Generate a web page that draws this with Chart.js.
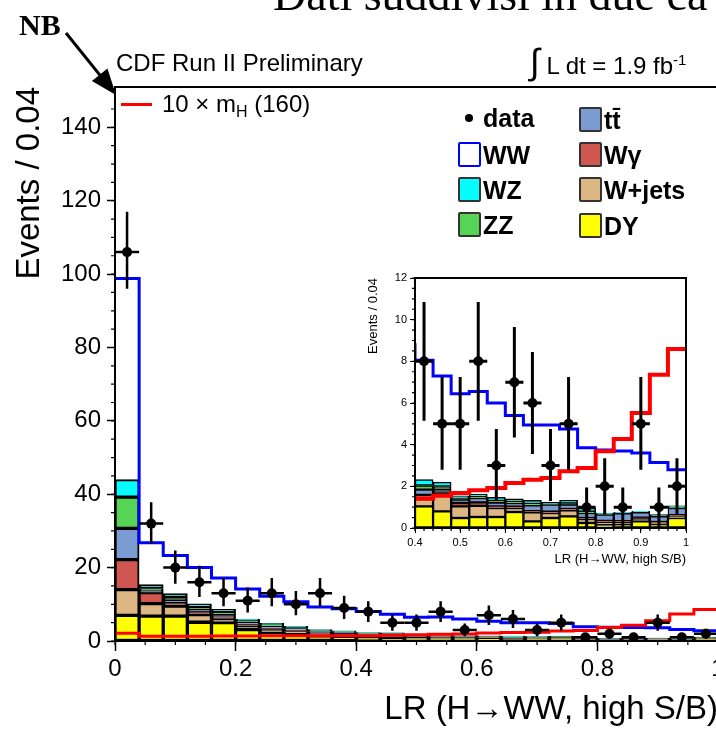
<!DOCTYPE html>
<html>
<head>
<meta charset="utf-8">
<script src="https://cdn.jsdelivr.net/npm/chart.js@4.4.0/dist/chart.umd.min.js"></script>
<style>
  html, body { margin: 0; padding: 0; background: #fff; overflow: hidden; }
  #wrap { position: relative; width: 716px; height: 733px; overflow: hidden; background: #fff; }
  #main { position: absolute; left: 0; top: 0; }
  #inset { position: absolute; left: 355px; top: 268px; }
  .txt { position: absolute; white-space: nowrap; color: #000; font-family: "Liberation Sans", Arial, sans-serif; }
  .serif { font-family: "Liberation Serif", "Times New Roman", serif; }
  .leg { position: absolute; white-space: nowrap; font: bold 25px/26px "Liberation Sans", Arial, sans-serif; color: #000; }
  .box { position: absolute; width: 19px; height: 21px; border: 2px solid #333; border-radius: 2px; }
</style>
</head>
<body>
<div id="wrap">
  <canvas id="main" width="790" height="733"></canvas>
  <canvas id="inset" width="345" height="310"></canvas>

  <div class="txt serif" style="left:273px; top:-28px; font-size:46px; line-height:46px;">Dati suddivisi in due ca</div>
  <div class="txt serif" style="left:19px; top:10px; font-size:30px; line-height:30px; font-weight:bold;">NB</div>

  <div class="txt" style="left:116px; top:51px; font-size:24px; line-height:24px;">CDF Run II Preliminary</div>
  <div class="txt" style="left:530px; top:42px; font-size:24px; line-height:36px;"><span style="font-size:36px;">&#8747;</span> L dt = 1.9 fb<sup style="font-size:15px; vertical-align:9px;">-1</sup></div>

  <div style="position:absolute; left:121px; top:103px; width:31px; height:3px; background:#ff0000;"></div>
  <div class="txt" style="left:162px; top:92px; font-size:24px; line-height:24px;">10 &times; m<sub style="font-size:16px; vertical-align:-5px;">H</sub> (160)</div>

  <div style="position:absolute; left:465px; top:114px; width:8px; height:8px; border-radius:50%; background:#000;"></div>
  <div class="leg" style="left:483px; top:105px;">data</div>
  <div class="box" style="left:458px; top:142px; background:#fff; border-color:#0000ff;"></div>
  <div class="leg" style="left:483px; top:142px;">WW</div>
  <div class="box" style="left:458px; top:177px; background:#00ffff;"></div>
  <div class="leg" style="left:483px; top:177px;">WZ</div>
  <div class="box" style="left:458px; top:212px; background:#55d455;"></div>
  <div class="leg" style="left:483px; top:212px;">ZZ</div>

  <div class="box" style="left:579px; top:107px; background:#7b9bd3;"></div>
  <div class="leg" style="left:604px; top:107px;">tt&#772;</div>
  <div class="box" style="left:579px; top:142px; background:#d05650;"></div>
  <div class="leg" style="left:604px; top:142px;">W&gamma;</div>
  <div class="box" style="left:579px; top:177px; background:#dcb784;"></div>
  <div class="leg" style="left:604px; top:177px;">W+jets</div>
  <div class="box" style="left:579px; top:213px; background:#ffff00;"></div>
  <div class="leg" style="left:604px; top:213px;">DY</div>
</div>

<script>
// bins of LR, width 0.04
var binCenters = [0.02, 0.06, 0.10, 0.14, 0.18, 0.22, 0.26, 0.30, 0.34, 0.38, 0.42, 0.46, 0.50,
                  0.54, 0.58, 0.62, 0.66, 0.70, 0.74, 0.78, 0.82, 0.86, 0.90, 0.94, 0.98]
var binWidth = 0.04

// data with error bars
var dataCounts  = [106, 32, 20, 16, 13, 11, 13, 10, 13, 9, 8, 5, 5, 8, 3, 7, 6, 3, 5, 1, 2, 1, 5, 1, 2]
var dataErrLow  = [96, 26.6, 15.6, 12, 9.5, 7.8, 9.5, 7, 9.5, 6, 5.15, 2.8, 2.8, 5.15, 1.3, 4.35, 3.55, 1.3, 2.8, 0, 0.65, 0, 2.8, 0, 0.65]
var dataErrHigh = [117, 37.8, 24.7, 20.5, 17.2, 14.6, 17.2, 13.6, 17.2, 12.3, 10.85, 7.25, 7.25, 10.85, 4.75, 9.65, 8.45, 4.75, 7.25, 1.95, 3.35, 1.95, 7.25, 1.95, 3.35]

// backgrounds, stacked bottom to top
var dy     = [7.0, 6.8, 6.8, 5.1, 5.0, 3.1, 2.3, 2.0, 1.4, 1.2, 1.04, 0.8, 0.48, 0.53, 0.53, 0.77, 0.32, 0.48, 0.56, 0.24, 0.16, 0.18, 0.32, 0.19, 0.48]
var wjets  = [7.0, 3.4, 2.7, 2.1, 1.0, 1.0, 0.8, 0.6, 0.5, 0.5, 0.35, 0.85, 0.56, 0.54, 0.43, 0.19, 0.43, 0.24, 0.29, 0.19, 0.13, 0.1, 0.13, 0.05, 0.08]
var wgamma = [8.2, 3.0, 1.1, 0.8, 0.6, 0.4, 0.3, 0.3, 0.3, 0.3, 0.2, 0.06, 0.16, 0.16, 0.08, 0.06, 0.06, 0.06, 0.06, 0.05, 0.05, 0.05, 0.05, 0.05, 0.05]
var ttbar  = [8.5, 0.4, 0.4, 0.4, 0.4, 0.5, 0.6, 0.5, 0.4, 0.4, 0.25, 0.13, 0.16, 0.21, 0.18, 0.18, 0.28, 0.34, 0.21, 0.24, 0.3, 0.37, 0.25, 0.27, 0.35]
var zz     = [8.5, 0.7, 0.9, 0.9, 0.9, 0.5, 0.4, 0.3, 0.2, 0.2, 0.2, 0.15, 0.06, 0.06, 0.08, 0.06, 0.06, 0.03, 0.06, 0.06, 0.03, 0.02, 0.02, 0.02, 0.03]
var wz     = [4.8, 1.1, 1.0, 0.8, 0.7, 0.5, 0.4, 0.3, 0.3, 0.2, 0.28, 0.21, 0.13, 0.13, 0.17, 0.14, 0.18, 0.08, 0.15, 0.18, 0.05, 0.03, 0.03, 0.06, 0.08]
var ww     = [54.8, 11.4, 10.4, 9.9, 8.6, 8.2, 7.4, 6.7, 6.2, 6.0, 5.73, 5.1, 4.9, 4.92, 4.53, 4.0, 3.62, 3.72, 3.42, 2.89, 3.03, 2.95, 2.8, 2.51, 1.73]

// signal 10 x mH=160
var signal = [2.1, 1.3, 1.3, 1.3, 1.35, 1.35, 1.4, 1.4, 1.4, 1.45, 1.4, 1.55, 1.68, 1.81, 1.92, 2.16, 2.32, 2.4, 2.72, 2.88, 3.68, 4.27, 5.52, 7.36, 8.59]

var backgrounds = [
  ['DY', dy, '#ffff00'],
  ['W+jets', wjets, '#dcb784'],
  ['Wgamma', wgamma, '#d05650'],
  ['ttbar', ttbar, '#7b9bd3'],
  ['ZZ', zz, '#55d455'],
  ['WZ', wz, '#00ffff']
]

var total = binCenters.map(function(c, i){
  return dy[i] + wjets[i] + wgamma[i] + ttbar[i] + zz[i] + wz[i] + ww[i]
})

var histLine = function(values){
  var pts = []
  binCenters.forEach(function(c, i){
    pts.push({x: c - binWidth / 2, y: values[i]})
    pts.push({x: c + binWidth / 2, y: values[i]})
  })
  return pts
}

var makeDatasets = function(lineW, sigW, barBorder, clip){
  var sets = backgrounds.map(function(b){
    return {
      type: 'bar',
      label: b[0],
      data: binCenters.map(function(c, i){ return {x: c, y: b[1][i]} }),
      backgroundColor: b[2],
      borderColor: '#000',
      borderWidth: barBorder,
      borderSkipped: false,
      barPercentage: 1,
      categoryPercentage: 1,
      clip: clip
    }
  })
  sets.push({
    type: 'line', label: 'WW total', data: histLine(total), stack: 'tot',
    borderColor: '#0000ff', borderWidth: lineW, pointRadius: 0, fill: false, order: -1, clip: clip
  })
  sets.push({
    type: 'line', label: 'signal', data: histLine(signal), stack: 'sig',
    borderColor: '#ff0000', borderWidth: sigW, pointRadius: 0, fill: false, order: -2, clip: clip
  })
  return sets
}

var fmt = function(v){ return String(Math.round(v * 100) / 100) }

var dataPointsPlugin = {
  id: 'datapoints',
  afterDatasetsDraw: function(chart, args, opts){
    var ctx = chart.ctx, xs = chart.scales.x, ys = chart.scales.y, a = chart.chartArea
    ctx.save()
    ctx.beginPath()
    ctx.rect(a.left, a.top, a.right - a.left, a.bottom - a.top)
    ctx.clip()
    ctx.strokeStyle = '#000'
    ctx.fillStyle = '#000'
    ctx.lineWidth = opts.lineWidth
    dataCounts.forEach(function(n, i){
      var px = xs.getPixelForValue(binCenters[i])
      var py = ys.getPixelForValue(n)
      ctx.beginPath()
      ctx.moveTo(xs.getPixelForValue(binCenters[i] - binWidth / 2), py)
      ctx.lineTo(xs.getPixelForValue(binCenters[i] + binWidth / 2), py)
      ctx.moveTo(px, ys.getPixelForValue(dataErrLow[i]))
      ctx.lineTo(px, ys.getPixelForValue(dataErrHigh[i]))
      ctx.stroke()
      ctx.beginPath()
      ctx.arc(px, py, opts.radius, 0, Math.PI * 2)
      ctx.fill()
    })
    ctx.restore()
  }
}

var framePlugin = {
  id: 'frame',
  afterDraw: function(chart, args, opts){
    var ctx = chart.ctx, a = chart.chartArea, xs = chart.scales.x, ys = chart.scales.y
    ctx.save()
    ctx.strokeStyle = '#000'
    ctx.lineWidth = opts.width
    ctx.strokeRect(a.left, a.top, a.right - a.left, a.bottom - a.top)
    ctx.lineWidth = 1.2
    ctx.beginPath()
    var n = Math.round((xs.max - xs.min) / opts.xMinor)
    for (var k = 0; k <= n; k++) {
      var p = xs.getPixelForValue(xs.min + k * opts.xMinor)
      ctx.moveTo(p, a.bottom)
      ctx.lineTo(p, a.bottom + opts.len)
    }
    n = Math.round((ys.max - ys.min) / opts.yMinor)
    for (k = 0; k <= n; k++) {
      var q = ys.getPixelForValue(ys.min + k * opts.yMinor)
      ctx.moveTo(a.left, q)
      ctx.lineTo(a.left - opts.len, q)
    }
    ctx.stroke()
    if (opts.arrow) {
      var s = opts.arrow
      var ang = Math.atan2(s[3] - s[1], s[2] - s[0])
      ctx.lineWidth = 3
      ctx.beginPath()
      ctx.moveTo(s[0], s[1])
      ctx.lineTo(s[2] - 15 * Math.cos(ang), s[3] - 15 * Math.sin(ang))
      ctx.stroke()
      ctx.fillStyle = '#000'
      ctx.beginPath()
      ctx.moveTo(s[2], s[3])
      ctx.lineTo(s[2] - 26 * Math.cos(ang) + 10 * Math.sin(ang), s[3] - 26 * Math.sin(ang) - 10 * Math.cos(ang))
      ctx.lineTo(s[2] - 26 * Math.cos(ang) - 10 * Math.sin(ang), s[3] - 26 * Math.sin(ang) + 10 * Math.cos(ang))
      ctx.closePath()
      ctx.fill()
    }
    ctx.restore()
  }
}

Chart.defaults.font.family = '"Liberation Sans", Arial, sans-serif'
Chart.defaults.color = '#000'

var mainChart = new Chart(document.getElementById('main'), {
  type: 'bar',
  data: { datasets: makeDatasets(3, 3, 2, false) },
  plugins: [dataPointsPlugin, framePlugin],
  options: {
    responsive: false,
    animation: false,
    layout: { padding: { top: 87, right: 72, left: 0, bottom: 0 } },
    plugins: {
      legend: { display: false },
      tooltip: { enabled: false },
      datapoints: { lineWidth: 2.5, radius: 5 },
      frame: { width: 2, xMinor: 0.05, yMinor: 5, len: 4, arrow: [66, 33, 116, 95] }
    },
    scales: {
      x: {
        type: 'linear', min: 0, max: 1, offset: false, stacked: true,
        afterFit: function(s){ s.height = 92 },
        grid: { drawOnChartArea: false, tickLength: 10, tickColor: '#000', tickWidth: 1.5, offset: false },
        border: { display: true, color: '#000', width: 2 },
        ticks: { stepSize: 0.2, includeBounds: false, autoSkip: false, maxRotation: 0, padding: 4,
                 font: { size: 24 }, callback: fmt },
        title: { display: true, text: 'LR (H\u2192WW, high S/B)', align: 'end', font: { size: 33 },
                 padding: { top: 0, bottom: 3 } }
      },
      y: {
        min: 0, max: 151, stacked: true,
        afterFit: function(s){ s.width = 115 },
        grid: { drawOnChartArea: false, tickLength: 8, tickColor: '#000', tickWidth: 1.5 },
        border: { display: true, color: '#000', width: 2 },
        ticks: { stepSize: 20, includeBounds: false, padding: 6, font: { size: 24 }, callback: fmt },
        title: { display: true, text: 'Events / 0.04', align: 'end', font: { size: 33 },
                 padding: { top: 10, bottom: 0 } }
      }
    }
  }
})

var insetChart = new Chart(document.getElementById('inset'), {
  type: 'bar',
  data: { datasets: makeDatasets(3, 4, 1.5, 0) },
  plugins: [dataPointsPlugin, framePlugin],
  options: {
    responsive: false,
    animation: false,
    layout: { padding: { top: 10, right: 14, left: 0, bottom: 0 } },
    plugins: {
      legend: { display: false },
      tooltip: { enabled: false },
      datapoints: { lineWidth: 3, radius: 5 },
      frame: { width: 2, xMinor: 0.02, yMinor: 0.5, len: 3 }
    },
    scales: {
      x: {
        type: 'linear', min: 0.4, max: 1, offset: false, stacked: true,
        afterFit: function(s){ s.height = 50 },
        grid: { drawOnChartArea: false, tickLength: 5, tickColor: '#000', tickWidth: 1, offset: false },
        border: { display: true, color: '#000', width: 1.5 },
        ticks: { stepSize: 0.1, includeBounds: false, autoSkip: false, maxRotation: 0, padding: 3,
                 font: { size: 11 }, callback: fmt },
        title: { display: true, text: 'LR (H\u2192WW, high S/B)', align: 'end', font: { size: 13 },
                 padding: { top: 0, bottom: 11 } }
      },
      y: {
        min: 0, max: 12, stacked: true,
        afterFit: function(s){ s.width = 60 },
        grid: { drawOnChartArea: false, tickLength: 5, tickColor: '#000', tickWidth: 1 },
        border: { display: true, color: '#000', width: 1.5 },
        ticks: { stepSize: 2, includeBounds: false, padding: 3, font: { size: 11 }, callback: fmt },
        title: { display: true, text: 'Events / 0.04', align: 'end', font: { size: 13 },
                 padding: { top: 11, bottom: 0 } }
      }
    }
  }
})
</script>
</body>
</html>
